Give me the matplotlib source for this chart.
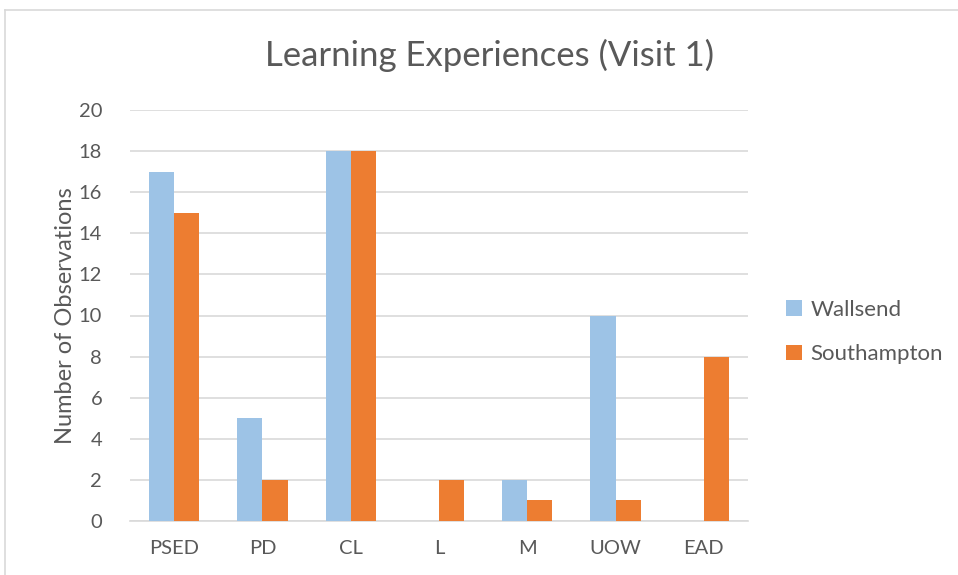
import matplotlib
matplotlib.use("Agg")
import matplotlib.pyplot as plt
import numpy as np
from matplotlib.lines import Line2D

categories = ["PSED", "PD", "CL", "L", "M", "UOW", "EAD"]
wallsend = [17, 5, 18, 0, 2, 10, 0]
southampton = [15, 2, 18, 2, 1, 1, 8]
yticks = [0, 2, 4, 6, 8, 10, 12, 14, 16, 18, 20]

blue = "#9DC3E6"
orange = "#ED7D31"
txt = "#595959"
plt.rcParams['font.family'] = ['Lato', 'DejaVu Sans']

fig = plt.figure(figsize=(9.58, 5.75), dpi=100)
ax = fig.add_axes([130/958, 1-521/575, (748-130)/958, (521-110)/575])

x = np.arange(len(categories))
w = 0.284
ax.bar(x - w/2, wallsend, w, color=blue, label="Wallsend", zorder=3)
ax.bar(x + w/2, southampton, w, color=orange, label="Southampton", zorder=3)

ax.set_xlim(-0.5, len(categories) - 0.5)
ax.set_ylim(0, 20)
ax.set_yticks(yticks)
ax.set_xticks(x)
ax.set_xticklabels(categories)
ax.grid(axis="y", color="#D9D9D9", linewidth=1.2, zorder=0)
for s in ["top", "right", "left"]:
    ax.spines[s].set_visible(False)
ax.spines["bottom"].set_color("#D9D9D9")
ax.spines["bottom"].set_linewidth(1.2)
ax.tick_params(axis="both", length=0, labelsize=14.5, colors=txt)
ax.tick_params(axis="y", pad=20)
ax.tick_params(axis="x", pad=14)
ax.set_ylabel("Number of Observations", fontsize=17, color=txt, labelpad=2)

fig.text(490/958, 1-55/575, "Learning Experiences (Visit 1)", ha="center", va="center",
         fontsize=25, color=txt)

leg = ax.legend(loc="center left", bbox_to_anchor=((766 - 130)/618, 0.46), frameon=False,
                fontsize=16, labelcolor=txt, handlelength=0.7, handleheight=0.7,
                handletextpad=0.4, labelspacing=1.1)

# chart border
fig.add_artist(Line2D([5/958, 1.0], [1-10/575, 1-10/575], transform=fig.transFigure,
                      color="#D9D9D9", linewidth=1.2))
fig.add_artist(Line2D([5/958, 5/958], [0, 1-10/575], transform=fig.transFigure,
                      color="#D9D9D9", linewidth=1.2))

fig.savefig("out.png", dpi=100)
